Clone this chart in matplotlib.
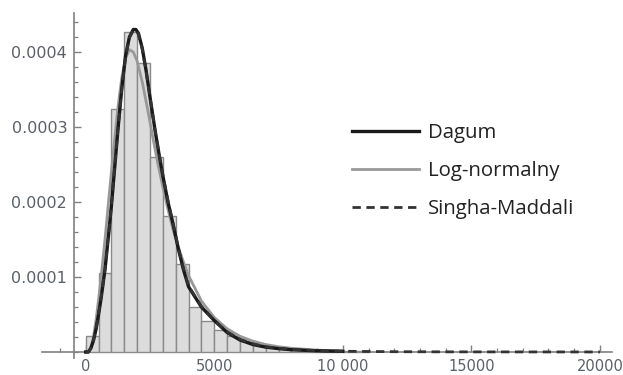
import numpy as np
import matplotlib.pyplot as plt
from matplotlib.ticker import FixedLocator, MultipleLocator

# histogram (bin width 500, starting at 0)
bin_width = 500
hist_heights = [0.22, 1.05, 3.24, 4.27, 3.85, 2.60, 1.81, 1.18, 0.60, 0.42,
                0.30, 0.22, 0.15, 0.10, 0.07, 0.05, 0.035, 0.025, 0.02, 0.015,
                0.01, 0.008]
hist_heights = [h * 1e-4 for h in hist_heights]
bin_starts = np.arange(len(hist_heights)) * bin_width

# Dagum
dagum_x = [0, 100, 200, 300, 400, 500, 600, 750, 900, 1000, 1100, 1250, 1400,
           1550, 1700, 1850, 1950, 2050, 2200, 2350, 2500, 2700, 2870, 3000,
           3200, 3400, 3600, 3800, 4000, 4500, 5000, 5500, 6000, 6500, 7000,
           7500, 8000, 9000, 10000]
dagum_y = [0, 0, 0.05, 0.15, 0.30, 0.50, 0.72, 1.10, 1.60, 1.95, 2.35, 2.95, 3.50,
           3.95, 4.20, 4.30, 4.30, 4.25, 4.05, 3.75, 3.40, 2.95, 2.60, 2.35,
           2.00, 1.70, 1.38, 1.10, 0.87, 0.60, 0.42, 0.26, 0.16, 0.10, 0.065,
           0.045, 0.03, 0.016, 0.009]

# log-normal
logn_x = [0, 100, 200, 300, 400, 500, 600, 750, 900, 1000, 1100, 1250, 1400,
          1550, 1700, 1850, 2000, 2200, 2400, 2600, 2800, 3000, 3200, 3400,
          3600, 3800, 4000, 4500, 5000, 5500, 6000, 6500, 7000, 7500, 8000,
          9000, 10000]
logn_y = [0, 0, 0.05, 0.20, 0.42, 0.70, 1.00, 1.50, 2.05, 2.40, 2.75, 3.25, 3.65,
          3.92, 4.03, 4.00, 3.88, 3.60, 3.25, 2.88, 2.52, 2.20, 1.90, 1.63,
          1.40, 1.20, 1.02, 0.68, 0.46, 0.31, 0.21, 0.145, 0.10, 0.07, 0.05,
          0.025, 0.013]

# Singha-Maddali
sm_x = [0, 100, 200, 300, 400, 500, 600, 750, 900, 1000, 1100, 1250, 1400,
        1550, 1700, 1850, 1950, 2050, 2200, 2350, 2500, 2700, 2870, 3000,
        3200, 3400, 3600, 3800, 4000, 4500, 5000, 5500, 6000, 6500, 7000,
        7500, 8000, 9000, 10000, 12000, 14000, 17000, 20000]
sm_y = [0, 0, 0.05, 0.16, 0.31, 0.51, 0.73, 1.11, 1.61, 1.96, 2.36, 2.96, 3.50,
        3.94, 4.19, 4.29, 4.29, 4.24, 4.04, 3.74, 3.40, 2.95, 2.61, 2.36,
        2.01, 1.71, 1.39, 1.11, 0.88, 0.61, 0.42, 0.27, 0.17, 0.11, 0.07,
        0.05, 0.035, 0.018, 0.01, 0.004, 0.002, 0.001, 0.0005]

dagum_y = [v * 1e-4 for v in dagum_y]
logn_y = [v * 1e-4 for v in logn_y]
sm_y = [v * 1e-4 for v in sm_y]

x_ticks = [0, 5000, 10000, 15000, 20000]
x_labels = ["0", "5000", "10 000", "15000", "20000"]
y_ticks = [0.0001, 0.0002, 0.0003, 0.0004]
y_labels = ["0.0001", "0.0002", "0.0003", "0.0004"]

fig = plt.figure(figsize=(6.23, 3.75), dpi=100)
ax = fig.add_axes([42 / 623, 1 - 358 / 375, (612 - 42) / 623, (358 - 13) / 375])

ax.bar(bin_starts, hist_heights, width=bin_width, align='edge',
       color='#dcdcdc', edgecolor='#8a8a8a', linewidth=1.0, zorder=2)

ax.plot(logn_x, logn_y, color='#999999', lw=2.0, zorder=3, label='Log-normalny')
ax.plot(dagum_x, dagum_y, color='#1a1a1a', lw=2.4, zorder=4, label='Dagum')
ax.plot(sm_x, sm_y, color='#333333', lw=2.0, ls=(0, (3, 2)), zorder=5,
        label='Singha-Maddali')

ax.set_xlim(-1700, 20470)
ax.set_ylim(-0.08e-4, 4.52e-4)

for s in ['top', 'right']:
    ax.spines[s].set_visible(False)
ax.spines['left'].set_position(('data', -450))
ax.spines['bottom'].set_position(('data', 0))
for s in ['left', 'bottom']:
    ax.spines[s].set_color('#808080')
    ax.spines[s].set_linewidth(1.2)
    ax.spines[s].set_zorder(1)

ax.xaxis.set_major_locator(FixedLocator(x_ticks))
ax.set_xticklabels(x_labels)
ax.xaxis.set_minor_locator(MultipleLocator(1000))
ax.yaxis.set_major_locator(FixedLocator(y_ticks))
ax.set_yticklabels(y_labels)
ax.yaxis.set_minor_locator(MultipleLocator(0.00002))

ax.tick_params(which='both', direction='in', color='#808080', labelcolor='#5a6068')
ax.tick_params(axis='y', labelsize=11.5)
ax.tick_params(axis='x', labelsize=10.5)
ax.tick_params(which='major', length=5, width=1.0, pad=5)
ax.tick_params(which='minor', length=3, width=0.9)

handles, labels = ax.get_legend_handles_labels()
order = [1, 0, 2]
fig.legend([handles[i] for i in order], [labels[i] for i in order],
           loc='upper left', bbox_to_anchor=(352 / 623, 1 - 123 / 375),
           frameon=False, handlelength=3.3, handletextpad=0.4,
           labelspacing=0.88, borderpad=0, borderaxespad=0,
           prop={'family': 'Open Sans', 'size': 14.7}, labelcolor='#222222')

fig.savefig('out.png', dpi=100)
